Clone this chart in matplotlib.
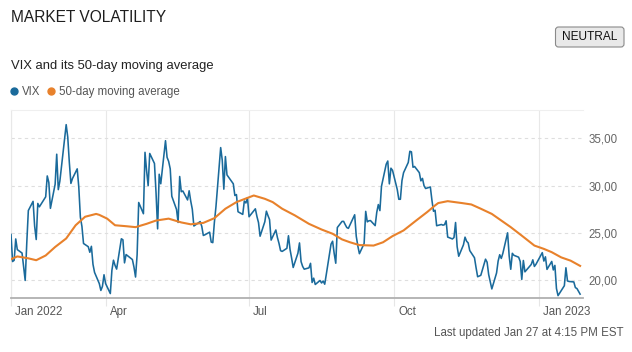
import matplotlib
matplotlib.use("Agg")
import matplotlib.pyplot as plt
import matplotlib.transforms as mtransforms
from matplotlib.patches import FancyBboxPatch
from matplotlib.lines import Line2D
from matplotlib.ticker import FuncFormatter
import pandas as pd

plt.rcParams['font.family'] = ['Liberation Sans', 'DejaVu Sans']

# market holidays inside the window
holidays = ["2022-02-21", "2022-04-15", "2022-05-30", "2022-06-20", "2022-07-04",
            "2022-09-05", "2022-11-24", "2022-12-26", "2023-01-02", "2023-01-16"]
trading_days = pd.bdate_range("2022-01-31", "2023-01-27").drop(pd.to_datetime(holidays))

vix = [
    24.83,
    # Feb
    21.96, 22.09, 24.35, 23.22, 22.86, 21.44, 19.96, 23.91, 27.36, 28.33,
    25.70, 24.29, 28.11, 27.75, 28.81, 31.02, 30.32, 27.59, 30.15,
    # Mar
    33.32, 29.57, 30.48, 31.98, 36.45, 35.13, 32.45, 30.23, 30.75, 31.77,
    29.83, 26.67, 25.67, 23.87, 23.53, 22.94, 23.57, 21.67, 20.81, 19.63,
    18.90, 19.33, 20.56,
    # Apr
    19.63, 18.57, 21.03, 22.10, 21.55, 21.16, 24.37, 24.26, 21.82, 22.70,
    22.17, 21.37, 20.32, 22.68, 28.21, 27.02, 33.52, 31.60, 29.99, 33.40,
    # May
    32.34, 29.25, 25.42, 31.20, 30.19, 34.75, 32.99, 32.56, 31.77, 28.87,
    27.47, 26.10, 30.96, 29.35, 29.43, 28.48, 29.45, 28.37, 27.50, 25.72,
    26.19,
    # Jun
    25.69, 24.72, 24.79, 25.07, 24.02, 23.96, 26.09, 27.75, 34.02, 32.69,
    29.62, 33.07, 31.13, 30.19, 28.95, 29.05, 27.23, 26.95, 28.36, 28.16,
    28.71,
    # Jul
    26.70, 27.54, 26.73, 26.08, 24.64, 26.17, 27.29, 26.82, 26.40, 24.23,
    25.30, 24.50, 23.88, 23.11, 23.03, 23.36, 24.69, 23.24, 22.33, 21.33,
    # Aug
    22.84, 23.93, 21.95, 21.44, 21.15, 21.29, 21.77, 19.74, 20.20, 19.53,
    19.95, 19.69, 19.90, 19.56, 20.60, 23.80, 24.11, 22.82, 21.78, 25.56,
    26.21, 26.21, 25.87,
    # Sep
    25.56, 25.47, 26.91, 24.64, 23.61, 22.79, 23.87, 27.27, 26.16, 26.27,
    26.30, 25.76, 27.16, 27.99, 27.35, 29.92, 32.26, 32.60, 30.18, 31.84,
    31.62,
    # Oct
    29.59, 28.55, 28.55, 30.52, 31.36, 32.45, 33.63, 33.57, 31.94, 32.02,
    31.37, 30.50, 30.76, 29.98, 29.69, 29.85, 28.46, 27.28, 27.39, 25.75,
    25.88,
    # Nov
    25.81, 25.86, 26.27, 24.55, 24.35, 24.50, 26.09, 23.53, 22.52, 23.73,
    24.54, 24.11, 23.93, 23.12, 22.36, 21.31, 20.35, 20.50, 22.21, 21.89,
    20.58,
    # Dec
    19.84, 19.06, 20.75, 22.01, 22.68, 22.29, 22.83, 25.00, 22.55, 21.14,
    22.83, 22.62, 22.42, 21.97, 20.07, 22.07, 20.87, 21.65, 22.14, 21.44,
    21.67,
    # Jan 2023
    22.90, 22.01, 22.46, 21.13, 21.97, 21.07, 21.55, 19.10, 18.35, 19.40,
    21.30, 19.90, 19.85, 19.80, 19.20, 19.10, 18.80, 18.51,
]

ma_dates = [
    "2022-01-31", "2022-02-04", "2022-02-11", "2022-02-16", "2022-02-22",
    "2022-02-28", "2022-03-07", "2022-03-13", "2022-03-19", "2022-03-26",
    "2022-03-28", "2022-04-02", "2022-04-07", "2022-04-14", "2022-04-20",
    "2022-04-27", "2022-05-03", "2022-05-11", "2022-05-19", "2022-05-25",
    "2022-06-02", "2022-06-09", "2022-06-16", "2022-06-23", "2022-07-04",
    "2022-07-11", "2022-07-16", "2022-07-22", "2022-07-30", "2022-08-08",
    "2022-08-16", "2022-08-23", "2022-08-29", "2022-09-03", "2022-09-09",
    "2022-09-18", "2022-09-24", "2022-09-30", "2022-10-07", "2022-10-15",
    "2022-10-22", "2022-10-27", "2022-10-29", "2022-11-04", "2022-11-13",
    "2022-11-19", "2022-11-25", "2022-12-02", "2022-12-08", "2022-12-14",
    "2022-12-21", "2022-12-29", "2023-01-04", "2023-01-09", "2023-01-15",
    "2023-01-21", "2023-01-27",
]
ma_values = [
    22.2, 22.5, 22.3, 22.1, 22.6,
    23.5, 24.4, 25.8, 26.7, 27.0,
    26.9, 26.5, 25.8, 25.7, 25.6,
    25.95, 26.3, 26.5, 26.1, 25.9,
    26.05, 26.55, 27.55, 28.25, 28.95,
    28.6, 28.25, 27.55, 26.85, 25.95,
    25.35, 24.9, 24.3, 24.0, 23.7,
    23.65, 24.0, 24.65, 25.25, 26.3,
    27.2, 27.9, 28.15, 28.35, 28.15,
    28.0, 27.55, 27.0, 26.3, 25.6,
    24.7, 23.65, 23.3, 22.95, 22.4,
    22.05, 21.5,
]

tick_dates = ["2022-01-31", "2022-04-01", "2022-07-01", "2022-10-01", "2023-01-01"]
tick_labels = ["Jan 2022", "Apr", "Jul", "Oct", "Jan 2023"]
y_ticks = [20, 25, 30, 35]

blue = "#1a6a9b"
orange = "#e8812b"
W, H = 632, 352


def fxy(x, y):
    # pixel position (from top left) -> figure fraction
    return x / W, 1 - y / H


fig = plt.figure(figsize=(W / 100, H / 100), dpi=100)
ax = fig.add_axes([11 / W, 1 - 298 / H, (583 - 11) / W, (298 - 110) / H])

ax.plot(trading_days, vix, color=blue, lw=1.15, zorder=3)
ax.plot(pd.to_datetime(ma_dates), ma_values, color=orange, lw=1.5, zorder=4)

ax.set_xlim(pd.Timestamp("2022-01-31"), pd.Timestamp("2023-01-28 20:00"))
ax.set_ylim(18.1, 38.0)

ax.set_xticks(pd.to_datetime(tick_dates))
ax.set_xticklabels(tick_labels)
ax.set_yticks(y_ticks)
ax.yaxis.tick_right()
ax.yaxis.set_major_formatter(FuncFormatter(lambda v, _: f"{v:.2f}".replace(".", ",")))

ax.tick_params(axis="y", length=0, pad=4, labelsize=8.3, labelcolor="#666666")
ax.tick_params(axis="x", length=6, width=0.8, color="#e6e6e6", pad=0,
               labelsize=8.3, labelcolor="#555555")
offset = mtransforms.ScaledTranslation(4 / 100, 0, fig.dpi_scale_trans)
for lab in ax.get_xticklabels():
    lab.set_horizontalalignment("left")
    lab.set_transform(lab.get_transform() + offset)

ax.grid(axis="x", color="#e8e8e8", lw=0.8)
ax.grid(axis="y", color="#dedede", lw=0.8, linestyle=(0, (3, 3)))

ax.spines["right"].set_visible(False)
ax.spines["top"].set_color("#efefef")
ax.spines["left"].set_color("#e8e8e8")
ax.spines["left"].set_linewidth(0.8)
ax.spines["bottom"].set_color("#b0b0b0")
ax.spines["bottom"].set_linewidth(1.3)

# header
fig.text(*fxy(11, 17), "MARKET VOLATILITY", fontsize=11.2, color="#1e1e1e",
         va="center", ha="left")
fig.text(*fxy(11, 66), "VIX and its 50-day moving average", fontsize=9.4,
         color="#222222", va="center", ha="left")

# neutral badge
badge = FancyBboxPatch((5.555, (H - 47) / 100), 0.685, 0.20,
                       boxstyle="round,pad=0,rounding_size=0.03",
                       transform=fig.dpi_scale_trans, fc="#e9e9e9",
                       ec="#8a8a8a", lw=0.8)
fig.add_artist(badge)
fig.text(*fxy(589.5, 37.5), "NEUTRAL", fontsize=8.6, color="#111111",
         ha="center", va="center")

# legend
handles = [Line2D([], [], marker="o", ls="", color=blue, markersize=5),
           Line2D([], [], marker="o", ls="", color=orange, markersize=5)]
fig.legend(handles, ["VIX", "50-day moving average"], loc="center left",
           bbox_to_anchor=fxy(9, 92), ncol=2, frameon=False, fontsize=8.3,
           labelcolor="#555555", handlelength=0.8, handletextpad=0.3,
           columnspacing=0.55, borderaxespad=0, borderpad=0)

# footer
fig.text(*fxy(624, 333), "Last updated Jan 27 at 4:15 PM EST", fontsize=8.3,
         color="#555555", ha="right", va="center")

fig.savefig("out.png", dpi=100)
